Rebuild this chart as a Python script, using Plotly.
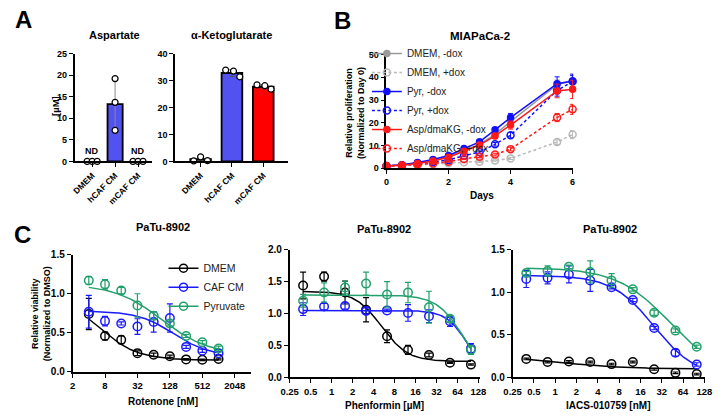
import numpy as np
import plotly.graph_objects as go

W, H = 723, 419
def px(x): return x / W
def py(y): return 1 - y / H

FONT = "Liberation Sans, Arial, sans-serif"

# ---------------- Panel A data ----------------
a_cats = ["DMEM", "hCAF CM", "mCAF CM"]
asp_mean = [0.0, 13.3, 0.0]
asp_sd = [0.0, 6.0, 0.0]
asp_pts = [[0, 0, 0], [19.2, 13.7, 7.2], [0, 0, 0]]
asp_jit = [[-0.22, 0, 0.22], [0, 0, 0], [-0.22, 0, 0.22]]
asp_nd = [True, False, True]
akg_mean = [0.8, 32.8, 27.7]
akg_sd = [0.8, 1.3, 0.8]
akg_pts = [[1.7, 0.2, 0.3], [33.9, 33.5, 31.4], [28.4, 28.1, 26.8]]
akg_jit = [[0, -0.22, 0.22], [-0.2, 0.05, 0.25], [-0.2, 0.05, 0.25]]
bar_colors = ["#ffffff", "#5252f0", "#ff0000"]

# ---------------- Panel B data ----------------
days = [0, 0.5, 1, 1.5, 2, 2.5, 3, 3.5, 4, 5.5, 6]
b_names = ["DMEM, -dox", "DMEM, +dox", "Pyr, -dox", "Pyr, +dox",
           "Asp/dmaKG, -dox", "Asp/dmaKG, +dox"]
b_vals = [
    [1, 1.4, 2.3, 3.5, 5.2, 7.9, 10.5, 14.9, 20.5, 36.8, 38.4],
    [1, 1.2, 1.5, 1.8, 2.2, 2.6, 2.8, 3.4, 4.3, 11.5, 14.8],
    [1, 1.5, 2.5, 3.8, 5.6, 8.7, 11.6, 16.9, 22.3, 37.2, 38.4],
    [1, 1.3, 1.9, 2.7, 3.6, 5.5, 7.1, 10.5, 14.5, 34.2, 38.2],
    [1, 1.3, 2.1, 3.2, 4.8, 7.5, 10.2, 14.2, 19.0, 34.0, 34.7],
    [1, 1.2, 1.6, 2.1, 2.9, 4.1, 5.1, 6.0, 8.4, 22.3, 25.9],
]
b_sd = [
    [0, 0.1, 0.1, 0.2, 0.3, 0.4, 0.5, 0.8, 1.5, 2.0, 2.5],
    [0, 0.1, 0.1, 0.1, 0.2, 0.2, 0.3, 0.3, 0.5, 1.0, 1.8],
    [0, 0.1, 0.2, 0.3, 0.4, 0.5, 0.6, 1.0, 1.8, 3.0, 3.0],
    [0, 0.1, 0.1, 0.2, 0.3, 0.4, 0.5, 0.8, 1.2, 2.5, 2.5],
    [0, 0.1, 0.1, 0.2, 0.3, 0.4, 0.5, 1.2, 1.8, 3.0, 4.0],
    [0, 0.1, 0.1, 0.1, 0.2, 0.3, 0.4, 0.6, 0.8, 1.8, 2.2],
]
b_colors = ["#9a9a9a", "#b8b8b8", "#1010ff", "#1010ff", "#ff1a1a", "#ff1a1a"]
b_filled = [True, False, True, False, True, False]

# ---------------- Panel C data ----------------
c_names = ["DMEM", "CAF CM", "Pyruvate"]
c_colors = ["#000000", "#1a1aff", "#22a06b"]

rot_dose = [4, 8, 16, 32, 64, 128, 256, 512, 1024]
rot_vals = [
    [0.74, 0.46, 0.41, 0.24, 0.22, 0.20, 0.16, 0.155, 0.165],
    [0.77, 0.65, 0.62, 0.58, 0.64, 0.69, 0.32, 0.27, 0.24],
    [1.17, 1.12, 1.04, 0.85, 0.72, 0.62, 0.46, 0.38, 0.30],
]
rot_sd = [
    [0.20, 0.05, 0.05, 0.03, 0.02, 0.015, 0.01, 0.01, 0.01],
    [0.21, 0.06, 0.02, 0.10, 0.13, 0.18, 0.02, 0.02, 0.02],
    [0.05, 0.06, 0.04, 0.15, 0.05, 0.03, 0.02, 0.02, 0.03],
]
# 4PL fit parameters: top, bottom, IC50, hill
rot_fit = [[1.0, 0.15, 6, 1.2], [0.78, 0.2, 150, 1.3], [1.12, 0.22, 90, 1.0]]

phen_dose = [0.39, 0.78, 1.56, 3.125, 6.25, 12.5, 25, 50, 100]
phen_vals = [
    [1.44, 1.58, 1.33, 1.06, 0.645, 0.43, 0.35, 0.23, 0.20],
    [1.07, 1.11, 1.12, 1.04, 1.05, 1.01, 0.96, 0.88, 0.45],
    [1.20, 1.33, 1.41, 1.47, 1.30, 1.33, 1.10, 0.92, 0.43],
]
phen_sd = [
    [0.21, 0.07, 0.18, 0.19, 0.10, 0.07, 0.03, 0.01, 0.01],
    [0.10, 0.05, 0.05, 0.05, 0.02, 0.13, 0.10, 0.08, 0.08],
    [0.10, 0.15, 0.10, 0.18, 0.20, 0.16, 0.25, 0.05, 0.07],
]
phen_fit = [[1.35, 0.25, 5.2, 2.3], [1.05, 0.0, 90, 2.8], [1.29, 0.0, 77, 2.3]]

iacs_dose = [0.39, 0.78, 1.56, 3.125, 6.25, 12.5, 25, 50, 100]
iacs_vals = [
    [0.217, 0.18, 0.186, 0.18, 0.156, 0.18, 0.095, 0.053, 0.038],
    [1.157, 1.17, 1.21, 1.14, 1.06, 0.91, 0.58, 0.29, 0.152],
    [1.226, 1.25, 1.30, 1.24, 1.14, 1.035, 0.76, 0.55, 0.36],
]
iacs_sd = [
    [0.01, 0.01, 0.01, 0.01, 0.01, 0.01, 0.01, 0.01, 0.01],
    [0.10, 0.07, 0.10, 0.13, 0.02, 0.02, 0.02, 0.04, 0.02],
    [0.02, 0.06, 0.02, 0.13, 0.08, 0.02, 0.03, 0.02, 0.02],
]
iacs_fit = [[0.25, 0.10, 1.2, 1.0], [1.2, 0.0, 25, 1.46], [1.29, 0.0, 42, 1.15]]

log_ticks_c1 = [2, 8, 32, 128, 512, 2048]
log_ticks_c23 = [0.25, 0.5, 1, 2, 4, 8, 16, 32, 64, 128]
log_ticktext_c23 = ["0.25", "0.5", "1", "2", "4", "8", "16", "32", "64", "128"]


def four_pl(x, p):
    top, bottom, ic50, hill = p
    return bottom + (top - bottom) / (1 + (x / ic50) ** hill)


fig = go.Figure()

# ---------- Panel A ----------
for ax, mean, sd, pts, jit, ecol in [
    ("", asp_mean, asp_sd, asp_pts, asp_jit, "#8a8a8a"),
    ("2", akg_mean, akg_sd, akg_pts, akg_jit, "#555555"),
]:
    xs = list(range(len(a_cats)))
    show_bar = [not (ax == "" and asp_nd[i]) for i in xs]
    fig.add_trace(go.Bar(
        x=[x for x, s in zip(xs, show_bar) if s],
        y=[m for m, s in zip(mean, show_bar) if s],
        width=0.66,
        marker=dict(color=[c for c, s in zip(bar_colors, show_bar) if s],
                    line=dict(color="black", width=1.8)),
        error_y=dict(type="data", array=[e for e, s in zip(sd, show_bar) if s],
                     color=ecol, thickness=1, width=2.5),
        xaxis="x" + ax, yaxis="y" + ax, showlegend=False,
    ))
    px_list, py_list = [], []
    for i in xs:
        for v, j in zip(pts[i], jit[i]):
            px_list.append(i + j)
            py_list.append(v)
    fig.add_trace(go.Scatter(
        x=px_list, y=py_list, mode="markers", cliponaxis=False,
        marker=dict(symbol="circle", size=6, color="white",
                    line=dict(color="black", width=1.2)),
        xaxis="x" + ax, yaxis="y" + ax, showlegend=False,
    ))

# ---------- Panel B ----------
for name, vals, sd, col, filled in zip(b_names, b_vals, b_sd, b_colors, b_filled):
    fig.add_trace(go.Scatter(
        x=days, y=vals, name=name, mode="lines+markers", cliponaxis=False,
        line=dict(color=col, width=1.5, dash="solid" if filled else "3px,2.5px"),
        marker=dict(symbol="circle" if filled else "circle-open", size=6 if filled else 7,
                    color=col, line=dict(color=col, width=1.5)),
        error_y=dict(type="data", array=sd, color=col, thickness=1, width=2.5),
        xaxis="x3", yaxis="y3", legend="legend",
    ))

# ---------- Panel C ----------
panels = [
    ("4", rot_dose, rot_vals, rot_sd, rot_fit),
    ("5", phen_dose, phen_vals, phen_sd, phen_fit),
    ("6", iacs_dose, iacs_vals, iacs_sd, iacs_fit),
]
for ax, dose, vals, sds, fits in panels:
    xc = np.logspace(np.log10(dose[0]), np.log10(dose[-1]), 200)
    for k, (name, col) in enumerate(zip(c_names, c_colors)):
        fig.add_trace(go.Scatter(
            x=xc, y=four_pl(xc, fits[k]), mode="lines",
            line=dict(color=col, width=1.5), hoverinfo="skip",
            xaxis="x" + ax, yaxis="y" + ax, showlegend=False,
        ))
        fig.add_trace(go.Scatter(
            x=dose, y=vals[k], name=name, mode="markers", cliponaxis=False,
            marker=dict(symbol="circle-open", size=8.5, color=col,
                        line=dict(color=col, width=1.5)),
            error_y=dict(type="data", array=sds[k], color=col, thickness=1.2, width=3),
            xaxis="x" + ax, yaxis="y" + ax, showlegend=False,
        ))

# legend entries for panel C (line + open circle)
for name, col in zip(c_names, c_colors):
    fig.add_trace(go.Scatter(
        x=[None], y=[None], name=name, mode="lines+markers",
        line=dict(color=col, width=1.5),
        marker=dict(symbol="circle-open", size=8, color=col, line=dict(color=col, width=1.5)),
        xaxis="x4", yaxis="y4", legend="legend2", showlegend=True,
    ))

# ---------- Axes ----------
def tf(size):
    return dict(family=FONT, size=size, color="black", weight="bold")

base_ax = dict(showline=True, linecolor="black", linewidth=1.6, ticks="outside",
               ticklen=4, tickwidth=1.4, tickcolor="black", showgrid=False,
               zeroline=False, tickfont=tf(9), fixedrange=True,
               ticklabeloverflow="allow")
c_ax = dict(base_ax, tickfont=tf(9.5))
c_yax = dict(base_ax, tickfont=tf(10))

layout_axes = dict(
    xaxis=dict(base_ax, domain=[px(67), px(146)], range=[-0.77, 2.6], anchor="y",
               tickvals=[0, 1, 2], ticktext=a_cats, tickangle=-45, tickfont=tf(8.5)),
    yaxis=dict(base_ax, domain=[py(160), py(49)], range=[0, 25], dtick=5, anchor="x"),
    xaxis2=dict(base_ax, domain=[px(170), px(285)], range=[-0.81, 2.78], anchor="y2",
                tickvals=[0, 1, 2], ticktext=a_cats, tickangle=-45, tickfont=tf(8.5)),
    yaxis2=dict(base_ax, domain=[py(160), py(49)], range=[0, 40], dtick=10, anchor="x2"),
    xaxis3=dict(base_ax, domain=[px(386), px(577)], range=[0, 6.02], anchor="y3",
                tickvals=[0, 2, 4, 6]),
    yaxis3=dict(base_ax, domain=[py(167), py(50)], range=[0, 50], dtick=10, anchor="x3"),
    xaxis4=dict(c_ax, type="log", domain=[px(65), px(247)],
                range=[np.log10(2), 3.604], anchor="y4", tickvals=log_ticks_c1,
                ticktext=[str(t) for t in log_ticks_c1]),
    yaxis4=dict(c_yax, domain=[py(376.7), py(256)], range=[0, 1.5], dtick=0.5,
                tickformat=".1f", anchor="x4"),
    xaxis5=dict(c_ax, type="log", domain=[px(287), px(482)],
                range=[np.log10(0.25), 2.135], anchor="y5", tickvals=log_ticks_c23,
                ticktext=log_ticktext_c23),
    yaxis5=dict(c_yax, domain=[py(382.3), py(251)], range=[0, 2], dtick=0.5,
                tickformat=".1f", anchor="x5"),
    xaxis6=dict(c_ax, type="log", domain=[px(515), px(712)],
                range=[np.log10(0.25), 2.12], anchor="y6", tickvals=log_ticks_c23,
                ticktext=log_ticktext_c23),
    yaxis6=dict(c_yax, domain=[py(382.3), py(251)], range=[0, 1.5], dtick=0.5,
                tickformat=".1f", anchor="x6"),
)

# ---------- Text ----------
def ann(text, x, y, size=10, weight="bold", angle=0, xanchor="center", yanchor="middle"):
    return dict(text=text, x=px(x), y=py(y), xref="paper", yref="paper",
                showarrow=False, textangle=angle, xanchor=xanchor, yanchor=yanchor,
                font=dict(family=FONT, size=size, color="black", weight=weight))

annotations = [
    ann("A", 15, 14, size=24),
    ann("B", 341, 15, size=24),
    ann("C", 14, 235, size=24),
    ann("Aspartate", 108, 30, size=11),
    ann("α-Ketoglutarate", 228, 30, size=11),
    ann("[µM]", 47, 103, size=9.5, angle=-90),
    ann("MIAPaCa-2", 482, 31, size=11.5),
    ann("Relative proliferation<br>(Normalized to Day 0)", 354, 110, size=9, angle=-90),
    ann("Days", 484, 195, size=10),
    ann("PaTu-8902", 157, 228, size=11),
    ann("PaTu-8902", 383, 230, size=11),
    ann("PaTu-8902", 615, 230, size=11),
    ann("Relative viability<br>(Normalized to DMSO)", 33, 317, size=9, angle=-90),
    ann("Rotenone [nM]", 157, 407, size=10),
    ann("Phenformin [µM]", 384, 411, size=10),
    ann("IACS-010759 [nM]", 613, 411, size=10),
]
for i, nd in enumerate(asp_nd):
    if nd:
        annotations.append(dict(text="ND", x=i, y=0, xref="x", yref="y", showarrow=False,
                                yanchor="bottom", yshift=3,
                                font=dict(family=FONT, size=9, color="black", weight="bold")))

fig.update_layout(
    width=W, height=H, margin=dict(l=0, r=0, t=0, b=0),
    paper_bgcolor="white", plot_bgcolor="white",
    font=dict(family=FONT, color="black"),
    annotations=annotations,
    barmode="overlay",
    legend=dict(x=px(366), y=py(34), xanchor="left", yanchor="top",
                bgcolor="rgba(0,0,0,0)", font=dict(family=FONT, size=10, color="#222"),
                itemwidth=30),
    legend2=dict(x=px(158), y=py(255), xanchor="left", yanchor="top",
                 bgcolor="rgba(0,0,0,0)", font=dict(family=FONT, size=10.5, color="#222"),
                 itemwidth=30),
    **layout_axes,
)

fig.write_html("out.html", config={"displayModeBar": False},
               post_script="document.body.style.margin='0';")
